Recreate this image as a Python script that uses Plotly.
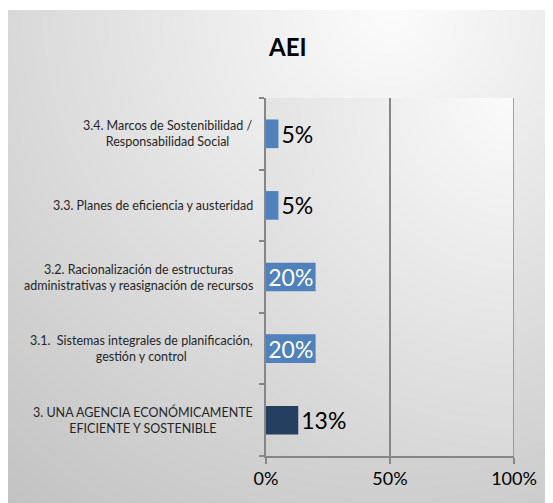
import base64
import struct
import zlib

import numpy as np
import plotly.graph_objects as go

# ---- data ----
categories = [
    "3. UNA AGENCIA ECONÓMICAMENTE<br>EFICIENTE Y SOSTENIBLE",
    "3.1.\u00a0\u00a0Sistemas integrales de planificación,<br>gestión y control",
    "3.2. Racionalización de estructuras<br>administrativas y reasignación de recursos",
    "3.3. Planes de eficiencia y austeridad",
    "3.4. Marcos de Sostenibilidad /<br>Responsabilidad Social",
]
values = [0.13, 0.20, 0.20, 0.05, 0.05]
value_labels = ["13%", "20%", "20%", "5%", "5%"]
x_tick_values = [0, 0.5, 1]
x_tick_labels = ["0%", "50%", "100%"]
x_max = 1
title_text = "AEI"

# ---- layout geometry (page px; the page body has an 8px margin) ----
OFF = 8
W, H = 553 - OFF, 503 - OFF
PL, PR, PT, PB = 266, 514, 98, 456          # plot area edges in page px
ML, MR, MT, MB = PL - OFF, W - (PR - OFF), PT - OFF, H - (PB - OFF)
PW, PH = PR - PL, PB - PT

bar_colors = ["#243F60", "#4F81BD", "#4F81BD", "#4F81BD", "#4F81BD"]
text_colors = ["#000000", "#FFFFFF", "#FFFFFF", "#000000", "#000000"]
text_pos = ["outside", "inside", "inside", "outside", "outside"]
axis_color = "#868686"
FONT = "Lato"


def png_gray(arr):
    arr = np.clip(arr, 0, 255).astype(np.uint8)
    h, w = arr.shape
    raw = b"".join(b"\x00" + arr[i].tobytes() for i in range(h))

    def chunk(tag, data):
        return (struct.pack(">I", len(data)) + tag + data
                + struct.pack(">I", zlib.crc32(tag + data) & 0xFFFFFFFF))

    png = (b"\x89PNG\r\n\x1a\n"
           + chunk(b"IHDR", struct.pack(">IIBBBBB", w, h, 8, 0, 0, 0, 0))
           + chunk(b"IDAT", zlib.compress(raw, 9))
           + chunk(b"IEND", b""))
    return "data:image/png;base64," + base64.b64encode(png).decode()


# outer chart-area gradient (page px)
ox0, oy0 = 8, 10
ow, oh = 553 - ox0, 503 - oy0
X, Y = np.meshgrid(ox0 + np.arange(ow), oy0 + np.arange(oh))
outer = 252 - 0.092 * np.sqrt((X - 390) ** 2 + (Y - 10) ** 2)
outer_src = png_gray(outer)

# plot-area gradient
X2, Y2 = np.meshgrid(PL + np.arange(PW), PT + np.arange(PH))
inner = 252 - 0.095 * np.sqrt((X2 - 520) ** 2 + (Y2 - 90) ** 2)
inner_src = png_gray(inner)


def px_x(p):
    return (p - PL) / PW


def px_y(p):
    return 1 - (p - PT) / PH


fig = go.Figure()
fig.add_trace(go.Bar(
    x=values,
    y=categories,
    orientation="h",
    marker=dict(color=bar_colors, line=dict(width=0)),
    text=value_labels,
    textposition=text_pos,
    insidetextanchor="middle",
    constraintext="none",
    cliponaxis=False,
    textfont=dict(family=FONT, size=23, color=text_colors),
    hoverinfo="skip",
))

annotations = []
for c in categories:
    annotations.append(dict(
        x=0, xref="paper", y=c, yref="y",
        text=c, showarrow=False, xanchor="right", yanchor="middle",
        xshift=-11, align="center",
        font=dict(family=FONT, size=12.5, color="#262626"),
    ))
annotations.append(dict(
    x=px_x(287), xref="paper", y=px_y(46), yref="paper",
    text="<b>" + title_text + "</b>", showarrow=False,
    xanchor="center", yanchor="middle",
    font=dict(family=FONT, size=24, color="#000000"),
))

fig.update_layout(
    width=W, height=H, autosize=False,
    margin=dict(l=ML, r=MR, t=MT, b=MB, pad=0),
    paper_bgcolor="#FFFFFF",
    plot_bgcolor="rgba(0,0,0,0)",
    showlegend=False,
    bargap=0.6,
    font=dict(family=FONT),
    images=[
        dict(source=outer_src, xref="paper", yref="paper",
             x=px_x(ox0), y=px_y(oy0),
             sizex=ow / PW, sizey=oh / PH, sizing="stretch",
             xanchor="left", yanchor="top", layer="below"),
        dict(source=inner_src, xref="paper", yref="paper",
             x=0, y=1, sizex=1, sizey=1, sizing="stretch",
             xanchor="left", yanchor="top", layer="below"),
    ],
    shapes=[
        # gridline + tick at the right end of the value axis
        dict(type="line", xref="x", yref="paper",
             x0=x_max, x1=x_max, y0=px_y(PB + 6), y1=1,
             line=dict(color=axis_color, width=1.5), layer="below"),
    ],
    annotations=annotations,
    xaxis=dict(
        range=[0, x_max], tickvals=x_tick_values, ticktext=x_tick_labels,
        showgrid=True, gridcolor=axis_color, gridwidth=1.5,
        zeroline=False, showline=True, linecolor=axis_color, linewidth=1.5,
        ticks="outside", ticklen=6, tickcolor=axis_color, tickwidth=1.5,
        tickfont=dict(family=FONT, size=18, color="#000000"),
        fixedrange=True,
    ),
    yaxis=dict(
        type="category", tickson="boundaries",
        showticklabels=False, showgrid=False, zeroline=False,
        showline=True, linecolor=axis_color, linewidth=1.5,
        ticks="outside", ticklen=5, tickcolor=axis_color, tickwidth=1.5,
        fixedrange=True,
    ),
)

fig.write_html("out.html", config={"displayModeBar": False})
